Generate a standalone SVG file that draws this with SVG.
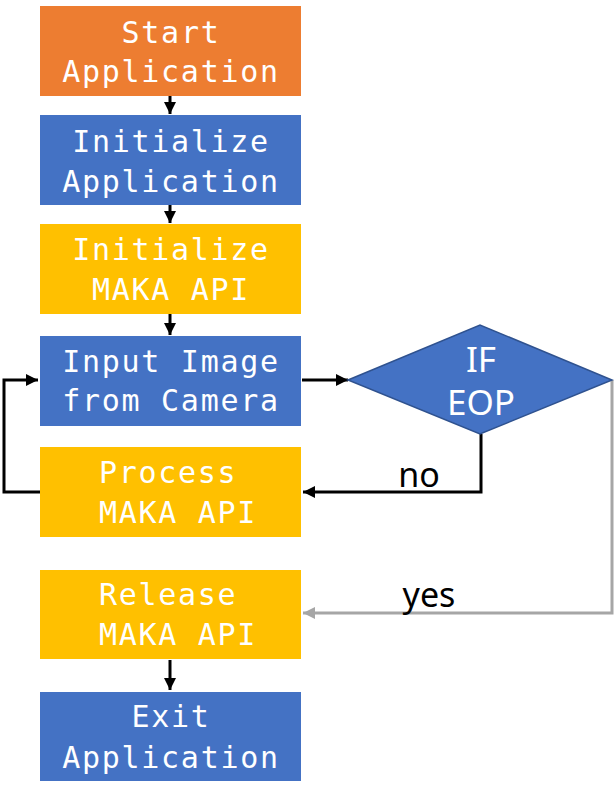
<svg xmlns="http://www.w3.org/2000/svg" width="616" height="797" viewBox="0 0 616 797">
  <defs>
    <marker id="ah" markerUnits="userSpaceOnUse" markerWidth="12" markerHeight="12" refX="12" refY="6" orient="auto">
      <path d="M0,0 L12,6 L0,12 Z" fill="#000"/>
    </marker>
    <marker id="ahg" markerUnits="userSpaceOnUse" markerWidth="12" markerHeight="12" refX="12" refY="6" orient="auto">
      <path d="M0,0 L12,6 L0,12 Z" fill="#A6A6A6"/>
    </marker>
  </defs>
  <style>
    .box text { font-family: "DejaVu Sans Mono", "Liberation Mono", monospace; font-size: 30px; letter-spacing: 1.7px; fill: #fff; }
    .c { text-anchor: middle; }
    .orange { fill: #ED7D31; }
    .blue { fill: #4472C4; }
    .yellow { fill: #FFC000; }
    .lbl { font-family: "Noto Sans", "Open Sans", sans-serif; font-size: 34px; fill: #000; text-anchor: middle; }
    .dtext { font-family: "Noto Sans", "Open Sans", sans-serif; font-size: 35px; fill: #fff; text-anchor: middle; }
    .conn { fill: none; stroke: #000; stroke-width: 3; }
    .conng { fill: none; stroke: #A6A6A6; stroke-width: 3; }
  </style>

  <g id="connectors">
    <line class="conn" x1="170" y1="96" x2="170" y2="114" marker-end="url(#ah)"/>
    <line class="conn" x1="170" y1="205" x2="170" y2="223" marker-end="url(#ah)"/>
    <line class="conn" x1="170" y1="314" x2="170" y2="335" marker-end="url(#ah)"/>
    <line class="conn" x1="302" y1="380" x2="348" y2="380" marker-end="url(#ah)"/>
    <polyline class="conn" points="481,434 481,492 303,492" marker-end="url(#ah)"/>
    <polyline class="conn" points="40,492 4,492 4,380 38,380" marker-end="url(#ah)"/>
    <polyline class="conng" points="612,380 612,613 303,613" marker-end="url(#ahg)"/>
    <line class="conn" x1="170" y1="660" x2="170" y2="690" marker-end="url(#ah)"/>
    <text class="lbl" x="419" y="487">no</text>
    <text class="lbl" x="429" y="607">yes</text>
  </g>

  <g id="start" class="box">
    <rect class="orange" x="40" y="6" width="261" height="90"/>
    <text class="c" x="171" y="43">Start</text>
    <text class="c" x="171" y="82">Application</text>
  </g>

  <g id="init-app" class="box">
    <rect class="blue" x="40" y="115" width="261" height="90"/>
    <text class="c" x="171" y="152">Initialize</text>
    <text class="c" x="171" y="192">Application</text>
  </g>

  <g id="init-maka" class="box">
    <rect class="yellow" x="40" y="224" width="261" height="90"/>
    <text class="c" x="171" y="260">Initialize</text>
    <text class="c" x="171" y="300">MAKA API</text>
  </g>

  <g id="input-image" class="box">
    <rect class="blue" x="40" y="336" width="261" height="90"/>
    <text class="c" x="171" y="372">Input Image</text>
    <text class="c" x="171" y="411">from Camera</text>
  </g>

  <g id="process" class="box">
    <rect class="yellow" x="40" y="447" width="261" height="90"/>
    <text x="99" y="483">Process</text>
    <text x="99" y="523">MAKA API</text>
  </g>

  <g id="release" class="box">
    <rect class="yellow" x="40" y="570" width="261" height="89"/>
    <text x="99" y="605">Release</text>
    <text x="99" y="645">MAKA API</text>
  </g>

  <g id="exit" class="box">
    <rect class="blue" x="40" y="692" width="261" height="89"/>
    <text class="c" x="171" y="727">Exit</text>
    <text class="c" x="171" y="768">Application</text>
  </g>

  <g id="decision">
    <polygon points="348,380 480,325 612,380 480,434" fill="#4472C4" stroke="#2F528F" stroke-width="1.5"/>
    <text class="dtext" x="481" y="372">IF</text>
    <text class="dtext" x="481" y="415">EOP</text>
  </g>
</svg>
